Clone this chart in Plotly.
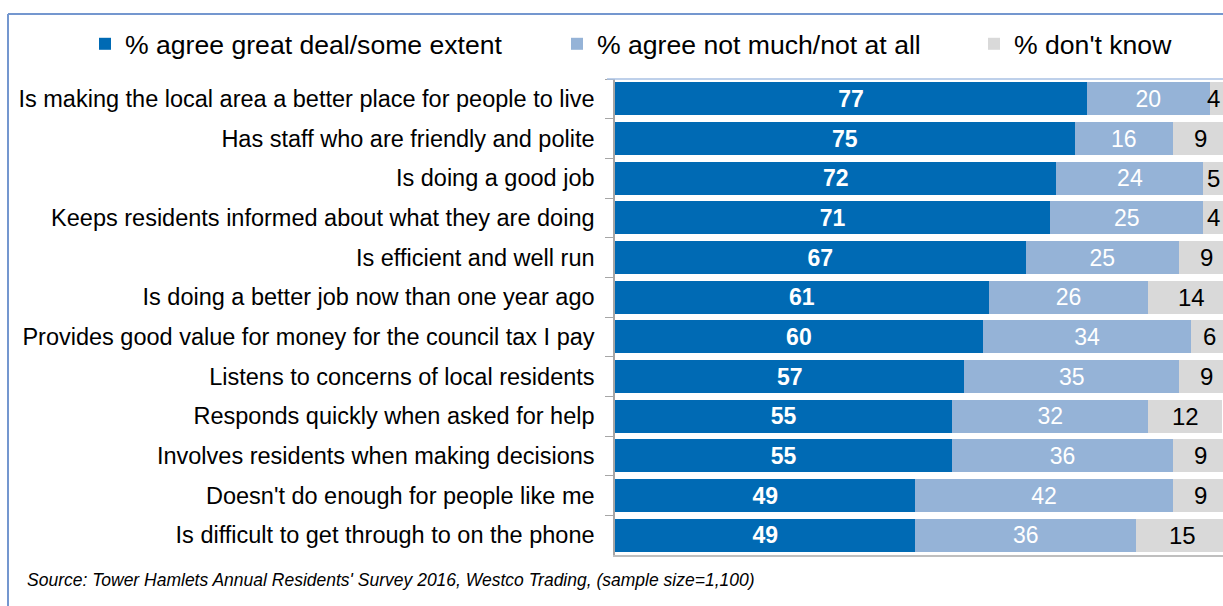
import plotly.graph_objects as go

# Survey statements (top to bottom) and the three response shares
statements = [
    "Is making the local area a better place for people to live",
    "Has staff who are friendly and polite",
    "Is doing a good job",
    "Keeps residents informed about what they are doing",
    "Is efficient and well run",
    "Is doing a better job now than one year ago",
    "Provides good value for money for the council tax I pay",
    "Listens to concerns of local residents",
    "Responds quickly when asked for help",
    "Involves residents when making decisions",
    "Doesn't do enough for people like me",
    "Is difficult to get through to on the phone",
]
agree = [77, 75, 72, 71, 67, 61, 60, 57, 55, 55, 49, 49]
disagree = [20, 16, 24, 25, 25, 26, 34, 35, 32, 36, 42, 36]
dont_know = [4, 9, 5, 4, 9, 14, 6, 9, 12, 9, 9, 15]

series_names = [
    "% agree great deal/some extent",
    "% agree not much/not at all",
    "% don't know",
]

W, H = 1223, 606
ML, MR, MT, MB = 615, 0, 79, 51
FONT = "Liberation Sans, Arial, sans-serif"
PX_PER_UNIT = 6.13
XMAX = (W - ML - MR) / PX_PER_UNIT

DARK = "#006AB4"
LIGHT = "#95B3D7"
GREY = "#D9D9D9"


def xp(px):
    return (px - ML) / (W - ML - MR)


def yp(py):
    return (H - MB - py) / (H - MT - MB)


fig = go.Figure()
specs = [
    (agree, DARK, dict(color="white", size=23, family=FONT, weight="bold"), "legend", True),
    (disagree, LIGHT, dict(color="white", size=24, family=FONT), "legend2", True),
    (dont_know, GREY, dict(color="black", size=24, family=FONT), "legend3", False),
]
for name, (vals, col, tfont, leg, inside_text) in zip(series_names, specs):
    fig.add_trace(go.Bar(
        y=statements, x=vals, name=name, orientation="h",
        marker=dict(color=col, line=dict(width=0)),
        text=vals if inside_text else None,
        textposition="inside", insidetextanchor="middle",
        textangle=0, textfont=tfont, cliponaxis=False,
        legend=leg, hoverinfo="skip",
    ))

# labels for the "don't know" segments: centred on the segment, or pulled
# back against the right edge when the segment runs past the visible range
for s, a, d, k in zip(statements, agree, disagree, dont_know):
    centre = a + d + k / 2
    half_w = 6.7 * len(str(k)) / PX_PER_UNIT
    if centre + half_w > XMAX - 0.2:
        x, anchor = XMAX - 0.2, "right"
    else:
        x, anchor = centre, "center"
    fig.add_annotation(x=x, y=s, xref="x", yref="y", text=str(k),
                       showarrow=False, xanchor=anchor, yanchor="middle",
                       font=dict(family=FONT, size=24, color="black"))

leg_common = dict(orientation="h", xref="container", yref="container",
                  yanchor="middle", xanchor="left", bgcolor="rgba(0,0,0,0)",
                  font=dict(family=FONT, size=26.6, color="black"),
                  itemwidth=30, tracegroupgap=0)
fig.update_layout(
    width=W, height=H,
    margin=dict(l=ML, r=MR, t=MT, b=MB),
    paper_bgcolor="white", plot_bgcolor="white",
    barmode="stack", bargap=0.17,
    uniformtext=dict(minsize=22, mode="show"),
    legend=dict(x=(125 - 40) / W, y=1 - 44 / H, **leg_common),
    legend2=dict(x=(597 - 40) / W, y=1 - 44 / H, **leg_common),
    legend3=dict(x=(1014 - 40) / W, y=1 - 44 / H, **leg_common),
    xaxis=dict(range=[0, XMAX], visible=True, showticklabels=False,
               showgrid=False, zeroline=False, ticks="",
               showline=True, linecolor="#BFBFBF", linewidth=1.5, mirror=False),
    yaxis=dict(autorange="reversed", showline=True, linecolor="#A6A6A6", linewidth=1.5,
               ticks="outside", ticklen=8, tickcolor="#A6A6A6", tickson="boundaries",
               tickfont=dict(family=FONT, size=23.5, color="black"), ticklabelstandoff=14,
               showgrid=False),
    font=dict(family=FONT),
    showlegend=True,
)

# thin blue line along the top of the plot area
fig.add_shape(type="line", xref="paper", yref="paper",
              x0=xp(607), x1=1.02, y0=1.0, y1=1.0,
              line=dict(color="#A9C1E3", width=1.5))

# outer frame (left and top edges)
fig.add_shape(type="line", xref="paper", yref="paper",
              x0=xp(8), x1=xp(8), y0=yp(14), y1=yp(620),
              line=dict(color="#7497CF", width=2))
fig.add_shape(type="line", xref="paper", yref="paper",
              x0=xp(8), x1=xp(1240), y0=yp(14), y1=yp(14),
              line=dict(color="#7497CF", width=2))

fig.add_annotation(
    text="<i>Source: Tower Hamlets Annual Residents' Survey 2016, Westco Trading, (sample size=1,100)</i>",
    xref="paper", yref="paper", x=xp(25), y=yp(580), xanchor="left", yanchor="middle",
    showarrow=False, font=dict(family=FONT, size=17.5, color="black"),
)

fig.write_html("out.html")
